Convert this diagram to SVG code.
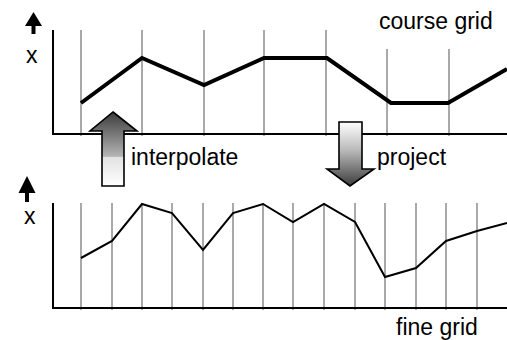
<svg xmlns="http://www.w3.org/2000/svg" width="507" height="340" viewBox="0 0 507 340">
<defs>
<style>
.grid{stroke:#8c8c8c;stroke-width:1.5;fill:none}
.axis{stroke:#000;stroke-width:2;fill:none}
.lbl{font-family:"Liberation Sans",Arial,sans-serif;font-size:23px;fill:#000}
.big{stroke:#000;stroke-width:1.6;stroke-linejoin:miter}
</style>
<linearGradient id="gUp" x1="0" y1="0" x2="0" y2="1">
<stop offset="0" stop-color="#3c3c3c"/>
<stop offset="0.6" stop-color="#b4b4b4"/>
<stop offset="0.61" stop-color="#e2e2e2"/>
<stop offset="1" stop-color="#ffffff"/>
</linearGradient>
<linearGradient id="gDown" x1="0" y1="0" x2="0" y2="1">
<stop offset="0" stop-color="#ffffff"/>
<stop offset="0.45" stop-color="#b8b8b8"/>
<stop offset="1" stop-color="#3c3c3c"/>
</linearGradient>
</defs>
<g id="top-panel">
<g class="grid">
<line x1="81" y1="30" x2="81" y2="136"/>
<line x1="142" y1="30" x2="142" y2="136"/>
<line x1="204" y1="30" x2="204" y2="136"/>
<line x1="264" y1="30" x2="264" y2="136"/>
<line x1="326" y1="30" x2="326" y2="136"/>
<line x1="387" y1="49" x2="387" y2="136"/>
<line x1="449" y1="49" x2="449" y2="136"/>
</g>
<polyline class="axis" points="53,30 53,134 507,134"/>
<polyline points="81,103 142,58 204,85 264,58 327,58 391,103 448,103 507,69" fill="none" stroke="#000" stroke-width="4" stroke-linejoin="miter"/>
<polygon points="33.5,12 42,26 35.5,26 35.5,34 31.5,34 31.5,26 25,26" fill="#000"/>
<text class="lbl" x="26" y="63">x</text>
<text class="lbl" x="379" y="29">course grid</text>
</g>
<g id="bottom-panel">
<g class="grid">
<line x1="81" y1="203" x2="81" y2="310"/>
<line x1="112" y1="203" x2="112" y2="310"/>
<line x1="142" y1="203" x2="142" y2="310"/>
<line x1="172" y1="203" x2="172" y2="310"/>
<line x1="203" y1="203" x2="203" y2="310"/>
<line x1="233" y1="203" x2="233" y2="310"/>
<line x1="263" y1="203" x2="263" y2="310"/>
<line x1="293" y1="203" x2="293" y2="310"/>
<line x1="324" y1="203" x2="324" y2="310"/>
<line x1="355" y1="203" x2="355" y2="310"/>
<line x1="385" y1="203" x2="385" y2="310"/>
<line x1="416" y1="203" x2="416" y2="310"/>
<line x1="446" y1="203" x2="446" y2="310"/>
<line x1="477" y1="203" x2="477" y2="310"/>
</g>
<polyline class="axis" points="53,203 53,308 507,308"/>
<polyline points="81,258 112,241 142,204 172,213 203,250 233,213 263,204 293,222 324,204 355,222 385,277 416,268 446,241 477,231 507,223" fill="none" stroke="#000" stroke-width="2" stroke-linejoin="miter"/>
<polygon points="27,176 35.5,193 29,193 29,202 25,202 25,193 18.5,193" fill="#000"/>
<text class="lbl" x="24" y="224">x</text>
<text class="lbl" x="396" y="335">fine grid</text>
</g>
<g id="interpolate">
<polygon class="big" fill="url(#gUp)" points="113,112 137,131 124,131 124,186 102,186 102,131 90,131"/>
<text class="lbl" x="131" y="165">interpolate</text>
</g>
<g id="project">
<polygon class="big" fill="url(#gDown)" points="339,122 362,122 362,169 374,169 350,186 327,169 339,169"/>
<text class="lbl" x="377" y="165">project</text>
</g>
</svg>
